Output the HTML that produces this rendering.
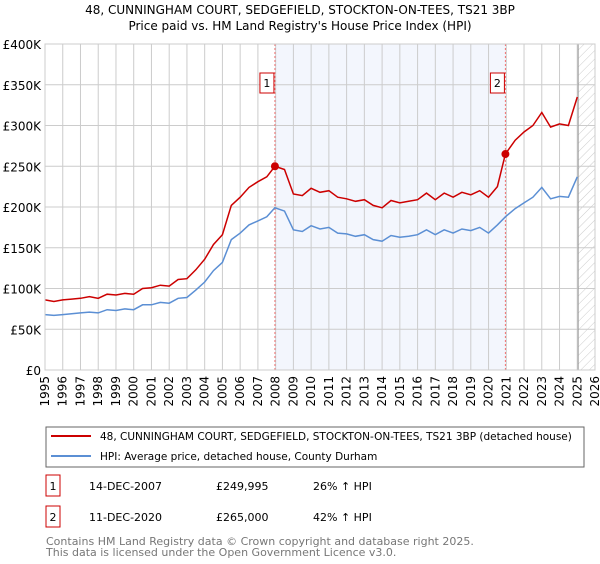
<!DOCTYPE html>
<html><head><meta charset="utf-8"><style>
body{margin:0;background:#fff;font-family:"DejaVu Sans","Liberation Sans",sans-serif;}
svg text{font-family:"DejaVu Sans","Liberation Sans",sans-serif;}
</style></head><body>
<svg id="c" width="600" height="560" xmlns="http://www.w3.org/2000/svg">
<defs><pattern id="hatch" width="6" height="6" patternUnits="userSpaceOnUse" patternTransform="rotate(45)"><line x1="0" y1="0" x2="0" y2="6" stroke="#ccc" stroke-width="1"/></pattern></defs>
<text x="300" y="14" text-anchor="middle" font-size="12" fill="#000">48, CUNNINGHAM COURT, SEDGEFIELD, STOCKTON-ON-TEES, TS21 3BP</text>
<text x="300" y="30" text-anchor="middle" font-size="12" fill="#000">Price paid vs. HM Land Registry's House Price Index (HPI)</text>
<g id="plot"></g>
<rect x="46" y="427" width="538" height="40" fill="#fff" stroke="#666"/>
<line x1="51" y1="436" x2="91" y2="436" stroke="#cc0000" stroke-width="2"/>
<text x="100" y="440" font-size="10.5">48, CUNNINGHAM COURT, SEDGEFIELD, STOCKTON-ON-TEES, TS21 3BP (detached house)</text>
<line x1="51" y1="456" x2="91" y2="456" stroke="#5b8fd4" stroke-width="2"/>
<text x="100" y="460" font-size="10.5">HPI: Average price, detached house, County Durham</text>
<rect x="46" y="475" width="14" height="21" fill="#fff" stroke="#cc0000"/>
<text x="53" y="490" font-size="11" text-anchor="middle">1</text>
<text x="89" y="490" font-size="11">14-DEC-2007</text>
<text x="216" y="490" font-size="11">£249,995</text>
<text x="313" y="490" font-size="11">26% ↑ HPI</text>
<rect x="46" y="506" width="14" height="21" fill="#fff" stroke="#cc0000"/>
<text x="53" y="521" font-size="11" text-anchor="middle">2</text>
<text x="89" y="521" font-size="11">11-DEC-2020</text>
<text x="216" y="521" font-size="11">£265,000</text>
<text x="313" y="521" font-size="11">42% ↑ HPI</text>
<text x="46" y="545" font-size="11" fill="#777">Contains HM Land Registry data © Crown copyright and database right 2025.</text>
<text x="46" y="556" font-size="11" fill="#777">This data is licensed under the Open Government Licence v3.0.</text>
</svg>
<script>
const years=[1995,1995.5,1996,1996.5,1997,1997.5,1998,1998.5,1999,1999.5,2000,2000.5,2001,2001.5,2002,2002.5,2003,2003.5,2004,2004.5,2005,2005.5,2006,2006.5,2007,2007.5,2007.96,2008.5,2009,2009.5,2010,2010.5,2011,2011.5,2012,2012.5,2013,2013.5,2014,2014.5,2015,2015.5,2016,2016.5,2017,2017.5,2018,2018.5,2019,2019.5,2020,2020.5,2020.95,2021.5,2022,2022.5,2023,2023.5,2024,2024.5,2025];
const hpiValues=[68,67,68,69,70,71,70,74,73,75,74,80,80,83,82,88,89,98,108,122,132,160,168,178,183,188,199,195,172,170,177,173,175,168,167,164,166,160,158,165,163,164,166,172,166,172,168,173,171,175,168,178,188,198,205,212,224,210,213,212,237];
const propValues=[86,84,86,87,88,90,88,93,92,94,93,100,101,104,103,111,112,123,136,154,166,202,212,224,231,237,250,246,216,214,223,218,220,212,210,207,209,202,199,208,205,207,209,217,209,217,212,218,215,220,212,225,265,282,292,300,316,298,302,300,335];
const yTicks=[0,50,100,150,200,250,300,350,400];
const yTickLabels=["£0","£50K","£100K","£150K","£200K","£250K","£300K","£350K","£400K"];
const xTicks=[1995,1996,1997,1998,1999,2000,2001,2002,2003,2004,2005,2006,2007,2008,2009,2010,2011,2012,2013,2014,2015,2016,2017,2018,2019,2020,2021,2022,2023,2024,2025,2026];
const saleYears=[2007.96,2020.95];
const saleValues=[249.995,265];
const saleLabels=["1","2"];
const X0=45,X1=595,Y0=370,Y1=44;
const xs=v=>X0+(v-1995)/(2026-1995)*(X1-X0);
const ys=v=>Y0-(v/400)*(Y0-Y1);
const NS="http://www.w3.org/2000/svg";
const g=document.getElementById('plot');
function mk(t,a){const e=document.createElementNS(NS,t);for(const k in a)e.setAttribute(k,a[k]);g.appendChild(e);return e;}
let e;
e=mk('rect',{x:xs(saleYears[0]),y:Y1,width:xs(saleYears[1])-xs(saleYears[0]),height:Y0-Y1,fill:'#f3f6fd'});


e=mk('rect',{x:xs(2025.05),y:Y1,width:X1-xs(2025.05),height:Y0-Y1,fill:'url(#hatch)'});


xTicks.forEach(t=>{
 e=mk('line',{x1:xs(t),y1:Y1,x2:xs(t),y2:Y0,stroke:'#ccc','stroke-width':1});
 
 
 e=mk('text',{x:0,y:0,'font-size':12,'text-anchor':'end',transform:`translate(${xs(t)+4},${Y0+6}) rotate(-90)`});
 e.textContent=t;
 
 
});
yTicks.forEach((t,i)=>{
 e=mk('line',{x1:X0,y1:ys(t),x2:X1,y2:ys(t),stroke:'#ccc','stroke-width':1});
 
 
 e=mk('text',{x:X0-4,y:ys(t)+5,'font-size':12,'text-anchor':'end'});
 e.textContent=yTickLabels[i];
 
 
});
e=mk('line',{x1:xs(2025.05),y1:Y1,x2:xs(2025.05),y2:Y0,stroke:'#999','stroke-width':1});


saleYears.forEach((s,i)=>{
 e=mk('line',{x1:xs(s),y1:Y1,x2:xs(s),y2:Y0,stroke:'#f07070','stroke-width':1,'stroke-dasharray':'2,2'});
 
 
});
const pts=a=>a.map((v,i)=>xs(years[i]).toFixed(1)+','+ys(v).toFixed(1)).join(' ');
e=mk('polyline',{points:pts(hpiValues),fill:'none',stroke:'#5b8fd4','stroke-width':1.5});


e=mk('polyline',{points:pts(propValues),fill:'none',stroke:'#cc0000','stroke-width':1.5});


saleYears.forEach((s,i)=>{
 e=mk('circle',{cx:xs(s),cy:ys(saleValues[i]),r:4,fill:'#cc0000'});
 
 
 e=mk('rect',{x:xs(s)-15,y:73,width:14,height:20,fill:'#fff',stroke:'#cc0000'});
 
 
 e=mk('text',{x:xs(s)-8,y:87,'font-size':11,'text-anchor':'middle'});
 e.textContent=saleLabels[i];
 
 
});
e=mk('rect',{x:X0,y:Y1,width:X1-X0,height:Y0-Y1,fill:'none',stroke:'#ccc'});


</script>
</body></html>
